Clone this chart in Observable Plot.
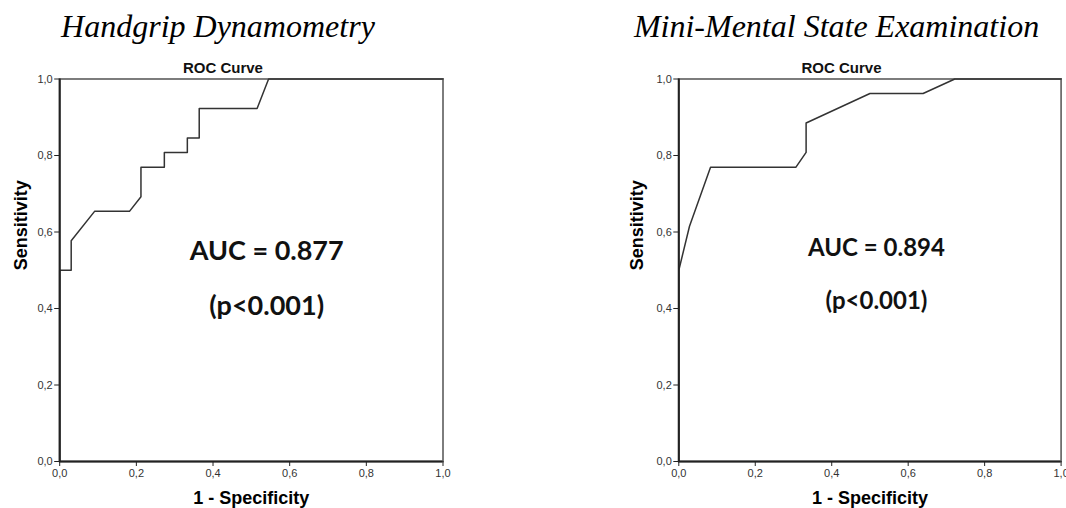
<!DOCTYPE html>
<html>
<head>
<meta charset="utf-8">
<script src="https://cdn.jsdelivr.net/npm/d3@7"></script>
<script src="https://cdn.jsdelivr.net/npm/@observablehq/plot@0.6"></script>
<style>
  html, body { margin: 0; padding: 0; background: #fff; overflow: hidden; }
  #wrap { display: flex; width: 1066px; height: 508px; }
  #wrap svg { display: block; }
</style>
</head>
<body>
<div id="wrap"></div>
<script>
// ---- data ----
const tickValues = [0, 0.2, 0.4, 0.6, 0.8, 1.0];
const tickLabels = ["0,0", "0,2", "0,4", "0,6", "0,8", "1,0"];

const hgTitle = "Handgrip Dynamometry";
const hgFpr = [0, 0, 0.030, 0.030, 0.091, 0.182, 0.212, 0.212, 0.273, 0.273, 0.333, 0.333, 0.364, 0.364, 0.515, 0.545, 1];
const hgTpr = [0, 0.5, 0.5, 0.577, 0.654, 0.654, 0.692, 0.769, 0.769, 0.808, 0.808, 0.846, 0.846, 0.923, 0.923, 1, 1];
const hgNotes = ["AUC = 0.877", "(p<0.001)"];
const hgNoteX = [0.54, 0.54];
const hgNoteY = [0.528, 0.382];

const mmTitle = "Mini-Mental State Examination";
const mmFpr = [0, 0, 0.028, 0.083, 0.306, 0.333, 0.333, 0.5, 0.639, 0.722, 1];
const mmTpr = [0, 0.5, 0.615, 0.769, 0.769, 0.808, 0.885, 0.962, 0.962, 1, 1];
const mmNotes = ["AUC = 0.894", "(p<0.001)"];
const mmNoteX = [0.517, 0.517];
const mmNoteY = [0.536, 0.4];

const panelTitle = "ROC Curve";
const xLabel = "1 - Specificity";
const yLabel = "Sensitivity";

// ---- drawing ----
const fmt = d => tickLabels[tickValues.indexOf(d)];

function rocChart(cfg) {
  const pts = cfg.fpr.map((x, i) => ({x, y: cfg.tpr[i]}));
  const notes = cfg.notes.map((t, i) => ({t, x: cfg.nx[i], y: cfg.ny[i]}));
  return Plot.plot({
    width: 533,
    height: 508,
    marginLeft: cfg.ml,
    marginRight: cfg.mr,
    marginTop: cfg.mt,
    marginBottom: 47,
    x: {domain: [0, 1]},
    y: {domain: [0, 1]},
    style: {fontFamily: "'Liberation Sans', Arial, sans-serif", fontSize: "11px", color: "#333", background: "#fff", overflow: "visible"},
    marks: [
      Plot.frame({stroke: "#6f6f6f", strokeWidth: 1.8}),
      Plot.line(pts, {x: "x", y: "y", stroke: "#333", strokeWidth: 1.5}),
      Plot.ruleX([0], {stroke: "#222", strokeWidth: 2}),
      Plot.ruleY([0], {stroke: "#222", strokeWidth: 2}),
      Plot.axisX({ticks: tickValues, tickFormat: fmt, tickSize: 5, tickPadding: 3, label: null, stroke: "#222", fill: "#333"}),
      Plot.axisY({ticks: tickValues, tickFormat: fmt, tickSize: 5, tickPadding: 2, label: null, stroke: "#222", fill: "#333"}),
      Plot.text([cfg.title], {text: d => d, frameAnchor: "top-left", textAnchor: "start", lineAnchor: "bottom",
        dx: cfg.tdx, dy: -42.5, fontFamily: "'Liberation Serif', 'Times New Roman', serif", fontStyle: "italic",
        fontSize: 32, fill: "#000"}),
      Plot.text([panelTitle], {text: d => d, frameAnchor: "top", lineAnchor: "bottom", dx: -28.4, dy: -6.5,
        fontSize: 15, fontWeight: "bold", fill: "#111"}),
      Plot.text([xLabel], {text: d => d, frameAnchor: "bottom", lineAnchor: "bottom", dy: 42.5,
        fontSize: 18, fontWeight: "bold", fill: "#000"}),
      Plot.text([yLabel], {text: d => d, frameAnchor: "left", rotate: -90, dx: cfg.ydx,
        fontSize: 18, fontWeight: "bold", fill: "#000"}),
      Plot.text(notes, {x: "x", y: "y", text: "t", lineAnchor: "bottom", textAnchor: "middle",
        fontFamily: "Lato, 'Open Sans', sans-serif", fontWeight: "bold", fontSize: cfg.nfs, fill: "#111"})
    ]
  });
}

const wrap = document.getElementById("wrap");
wrap.appendChild(rocChart({title: hgTitle, fpr: hgFpr, tpr: hgTpr, notes: hgNotes, nx: hgNoteX, ny: hgNoteY,
  ml: 59.2, mr: 90.5, mt: 78.5, tdx: 1.4, ydx: -38, nfs: 27}));
wrap.appendChild(rocChart({title: mmTitle, fpr: mmFpr, tpr: mmTpr, notes: mmNotes, nx: mmNoteX, ny: mmNoteY,
  ml: 145.3, mr: 5.4, mt: 78.5, tdx: -44.9, ydx: -42, nfs: 24}));
</script>
</body>
</html>
